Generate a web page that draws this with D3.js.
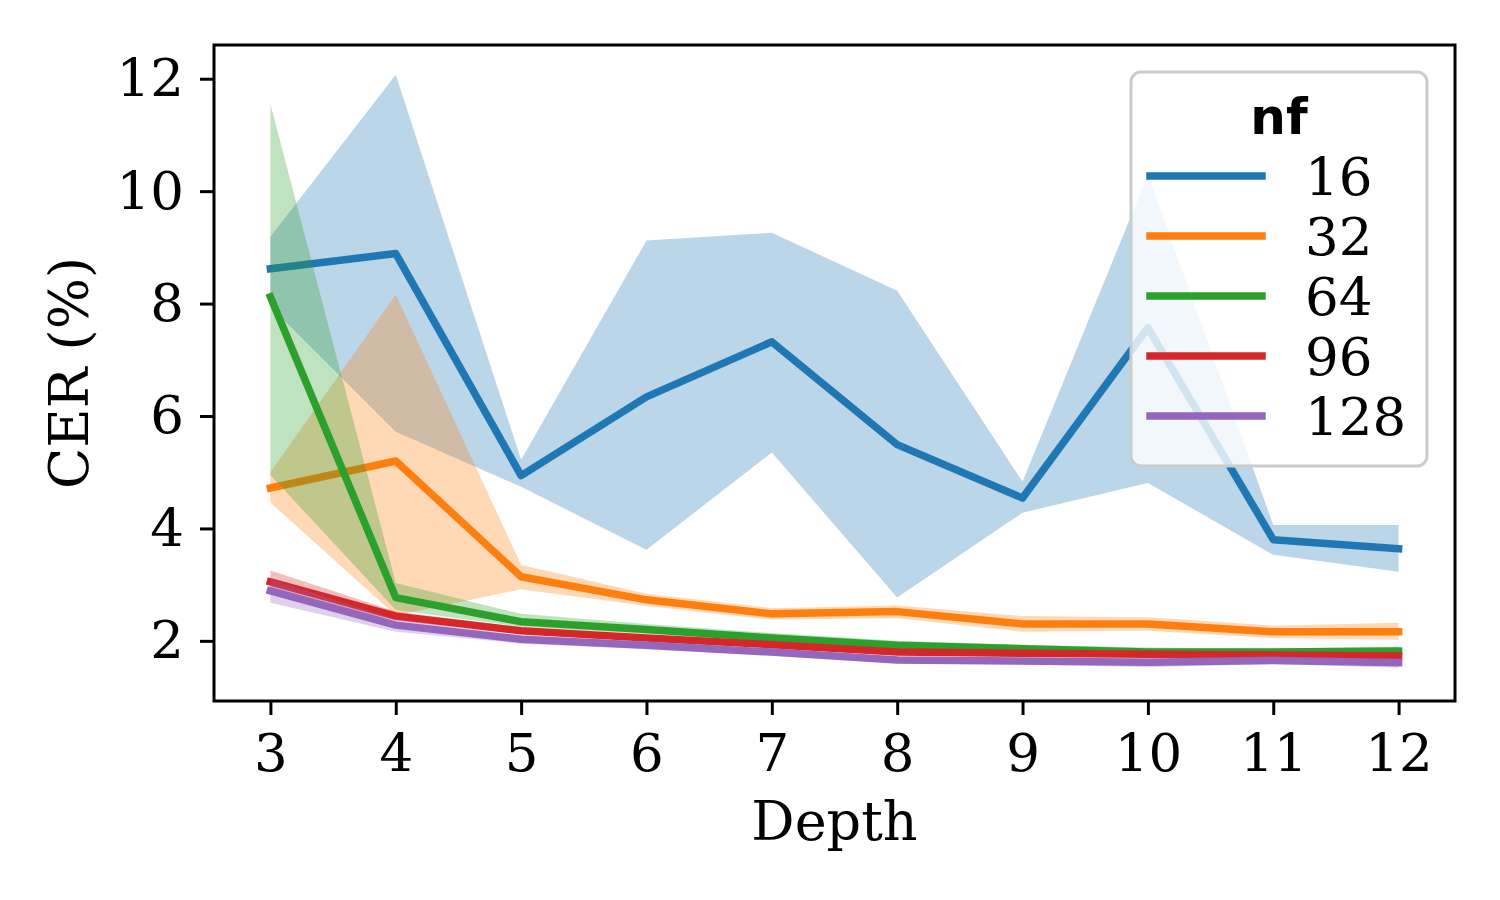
<!DOCTYPE html>
<html>
<head>
<meta charset="utf-8">
<script src="https://cdn.jsdelivr.net/npm/d3@7"></script>
<style>
  body { margin: 0; background: white; }
  #chart { width: 1500px; height: 900px; }
  .axis text { font-family: "DejaVu Serif", serif; font-size: 53px; fill: black; }
  .axis path, .axis line { stroke: black; stroke-width: 3px; }
  .axisLabel { font-family: "DejaVu Serif", serif; font-size: 54px; fill: black; text-anchor: middle; }
</style>
</head>
<body>
<div id="chart"></div>
<script>

// DATA
const depths = [3, 4, 5, 6, 7, 8, 9, 10, 11, 12];
const nfLabels = ["16", "32", "64", "96", "128"];
const colors = ["#1f77b4", "#ff7f0e", "#2ca02c", "#d62728", "#9467bd"];

const mean16 = [8.62, 8.89, 4.94, 6.34, 7.32, 5.49, 4.54, 7.57, 3.80, 3.64];
const lo16   = [7.95, 5.72, 4.74, 3.62, 5.35, 2.77, 4.28, 4.81, 3.53, 3.23];
const hi16   = [9.19, 12.07, 5.22, 9.12, 9.26, 8.23, 4.83, 10.29, 4.06, 4.06];

const mean32 = [4.72, 5.20, 3.14, 2.73, 2.48, 2.52, 2.30, 2.30, 2.16, 2.16];
const lo32   = [4.46, 2.45, 2.92, 2.62, 2.38, 2.40, 2.16, 2.18, 2.05, 2.02];
const hi32   = [5.00, 8.16, 3.35, 2.84, 2.58, 2.63, 2.44, 2.42, 2.27, 2.32];

const mean64 = [8.12, 2.77, 2.34, 2.20, 2.05, 1.92, 1.86, 1.80, 1.80, 1.82];
const lo64   = [4.95, 2.55, 2.25, 2.12, 1.98, 1.86, 1.80, 1.75, 1.74, 1.76];
const hi64   = [11.55, 3.03, 2.48, 2.30, 2.14, 2.00, 1.93, 1.88, 1.86, 1.90];

const mean96 = [3.05, 2.44, 2.18, 2.05, 1.93, 1.80, 1.78, 1.76, 1.75, 1.73];
const lo96   = [2.85, 2.36, 2.12, 2.00, 1.88, 1.75, 1.73, 1.71, 1.70, 1.68];
const hi96   = [3.25, 2.52, 2.24, 2.10, 1.98, 1.85, 1.83, 1.81, 1.80, 1.78];

const mean128 = [2.89, 2.28, 2.03, 1.92, 1.80, 1.66, 1.64, 1.62, 1.65, 1.61];
const lo128   = [2.68, 2.16, 1.95, 1.85, 1.73, 1.60, 1.58, 1.53, 1.59, 1.52];
const hi128   = [3.10, 2.38, 2.10, 1.99, 1.86, 1.72, 1.70, 1.70, 1.71, 1.69];

const yTicks = [2, 4, 6, 8, 10, 12];

const means = [mean16, mean32, mean64, mean96, mean128];
const lows = [lo16, lo32, lo64, lo96, lo128];
const highs = [hi16, hi32, hi64, hi96, hi128];


//1. SVG CANVAS
const width = 1500;
const height = 900;

const svg = d3.select("#chart")
    .append("svg")
    .attr("width", width)
    .attr("height", height);

const margin = { top: 45, left: 214, right: 45, bottom: 199 };


//2. SCALES
const xScale = d3.scaleLinear()
    .domain([2.55, 12.45])
    .range([margin.left, width - margin.right]);

const yScale = d3.scaleLinear()
    .domain([0.93, 12.6])
    .range([height - margin.bottom, margin.top]);


//3. BANDS + LINES (one series at a time, later ones on top)
const area = d3.area()
    .x(d => xScale(d.x))
    .y0(d => yScale(d.lo))
    .y1(d => yScale(d.hi));

const line = d3.line()
    .x(d => xScale(d.x))
    .y(d => yScale(d.y));

const plot = svg.append("g");

means.forEach(function(m, i) {
    const rows = depths.map((x, j) => ({ x: x, y: m[j], lo: lows[i][j], hi: highs[i][j] }));

    plot.append("path")
        .datum(rows)
        .attr("d", area)
        .attr("fill", colors[i])
        .attr("fill-opacity", 0.3)
        .attr("stroke", "none");

    plot.append("path")
        .datum(rows)
        .attr("d", line)
        .attr("fill", "none")
        .attr("stroke", colors[i])
        .attr("stroke-width", 7.5)
        .attr("stroke-linecap", "square")
        .attr("stroke-linejoin", "round");
});


//4. AXES + FRAME
const xAxis = svg.append("g")
    .attr("class", "axis")
    .attr("transform", `translate(0,${height - margin.bottom})`)
    .call(d3.axisBottom(xScale).tickValues(depths).tickFormat(d3.format("d")).tickSize(14).tickPadding(18));

const yAxis = svg.append("g")
    .attr("class", "axis")
    .attr("transform", `translate(${margin.left},0)`)
    .call(d3.axisLeft(yScale).tickValues(yTicks).tickSize(14).tickPadding(16));

svg.selectAll(".axis .domain").remove();

svg.append("rect")
    .attr("x", margin.left)
    .attr("y", margin.top)
    .attr("width", width - margin.left - margin.right)
    .attr("height", height - margin.top - margin.bottom)
    .attr("fill", "none")
    .attr("stroke", "black")
    .attr("stroke-width", 3);


//5. AXIS LABELS
svg.append("text")
    .attr("class", "axisLabel")
    .attr("x", (margin.left + width - margin.right) / 2)
    .attr("y", 840)
    .text("Depth");

svg.append("text")
    .attr("class", "axisLabel")
    .attr("transform", "rotate(-90)")
    .attr("x", -(margin.top + height - margin.bottom) / 2)
    .attr("y", 88)
    .text("CER (%)");


//6. LEGEND
const legend = svg.append("g");

legend.append("rect")
    .attr("x", 1131)
    .attr("y", 72)
    .attr("width", 296)
    .attr("height", 394)
    .attr("rx", 10)
    .attr("fill", "white")
    .attr("fill-opacity", 0.8)
    .attr("stroke", "#cccccc")
    .attr("stroke-width", 3);

legend.append("text")
    .attr("x", 1279)
    .attr("y", 134)
    .attr("text-anchor", "middle")
    .style("font-family", "'DejaVu Sans', sans-serif")
    .style("font-weight", "bold")
    .style("font-size", "50px")
    .text("nf");

nfLabels.forEach(function(lab, i) {
    const y = 176 + i * 60;
    legend.append("line")
        .attr("x1", 1150)
        .attr("x2", 1262)
        .attr("y1", y)
        .attr("y2", y)
        .attr("stroke", colors[i])
        .attr("stroke-width", 7.5)
        .attr("stroke-linecap", "square");
    legend.append("text")
        .attr("x", 1305)
        .attr("y", y + 19)
        .style("font-family", "'DejaVu Serif', serif")
        .style("font-size", "53px")
        .text(lab);
});

</script>
</body>
</html>
